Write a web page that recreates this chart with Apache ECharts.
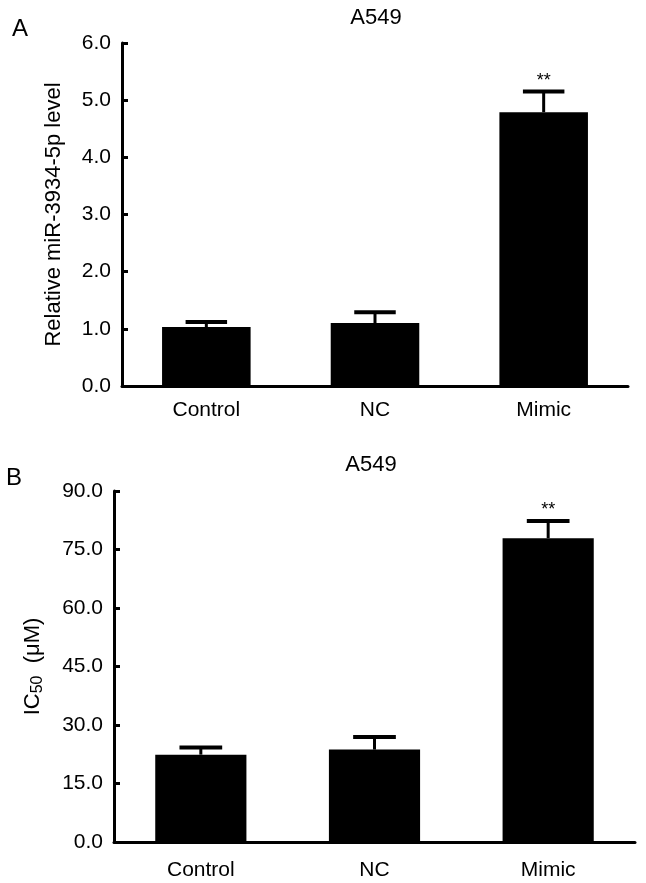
<!DOCTYPE html>
<html>
<head>
<meta charset="utf-8">
<script src="https://cdn.jsdelivr.net/npm/echarts@6/dist/echarts.min.js"></script>
<style>
html,body{margin:0;padding:0;background:#fff;}
#chart{width:646px;height:883px;}
</style>
</head>
<body>
<div id="chart"></div>
<script>
// ---- data ----
const categories = ['Control', 'NC', 'Mimic'];
const panelATitle = 'A549';
const panelBTitle = 'A549';
const meanA = [1.03, 1.10, 4.79];
const upperA = [1.12, 1.29, 5.15];
const sigA = ['', '', '**'];
const meanB = [22.4, 23.7, 77.9];
const upperB = [24.2, 26.9, 82.3];
const sigB = ['', '', '**'];
const yTicksA = { min: 0, max: 6, interval: 1 };
const yTicksB = { min: 0, max: 90, interval: 15 };

const FONT = '"Liberation Sans", Arial, Helvetica, sans-serif';
const FS = 21;

function errRender(sig) {
  return function (params, api) {
    const base = api.coord([api.value(0), api.value(1)]);
    const top = api.coord([api.value(0), api.value(2)]);
    const band = api.size([1, 0])[0];
    const half = band * 0.123;
    const children = [
      { type: 'line', shape: { x1: base[0], y1: base[1], x2: top[0], y2: top[1] },
        style: { stroke: '#000', lineWidth: 3 } },
      { type: 'line', shape: { x1: top[0] - half, y1: top[1], x2: top[0] + half, y2: top[1] },
        style: { stroke: '#000', lineWidth: 4 } }
    ];
    const s = sig[params.dataIndex];
    if (s) {
      children.push({ type: 'text', style: { text: s, x: top[0], y: top[1] - 2, align: 'center',
        verticalAlign: 'bottom', fontSize: 18, fontFamily: FONT, fill: '#000' } });
    }
    return { type: 'group', children: children };
  };
}

function yAxisCommon(t) {
  return {
    type: 'value', min: t.min, max: t.max, interval: t.interval,
    axisLine: { show: true, lineStyle: { color: '#000', width: 3 } },
    axisTick: { show: true, inside: true, length: 6, lineStyle: { color: '#000', width: 3 } },
    axisLabel: { color: '#000', fontSize: FS, fontFamily: FONT, margin: 11,
      formatter: v => v.toFixed(1) },
    splitLine: { show: false },
    nameLocation: 'middle',
    nameTextStyle: { color: '#000', fontSize: 22, fontFamily: FONT }
  };
}
function xAxisCommon(gi, margin) {
  return {
    type: 'category', data: categories, gridIndex: gi,
    axisLine: { show: true, lineStyle: { color: '#000', width: 3 } },
    axisTick: { show: false },
    axisLabel: { color: '#000', fontSize: FS, fontFamily: FONT, margin: margin }
  };
}

const yA = Object.assign(yAxisCommon(yTicksA), { gridIndex: 0, name: 'Relative miR-3934-5p level', nameGap: 57 });
const yB = Object.assign(yAxisCommon(yTicksB), { gridIndex: 1, name: '{a|IC}{b|50}{a|  (μM)}', nameGap: 68,
  nameTextStyle: { color: '#000', fontSize: 22, fontFamily: FONT,
    rich: {
      a: { fontSize: 22, fontFamily: FONT, color: '#000', verticalAlign: 'top', lineHeight: 24 },
      b: { fontSize: 16, fontFamily: FONT, color: '#000', verticalAlign: 'top', lineHeight: 24, padding: [8, 0, 0, 0] }
    } } });

const chart = echarts.init(document.getElementById('chart'));
chart.setOption({
  animation: false,
  backgroundColor: '#fff',
  title: [
    { text: panelATitle, left: 371, top: 2, textAlign: 'center',
      textStyle: { fontSize: 22, fontWeight: 'normal', fontFamily: FONT, color: '#000' } },
    { text: panelBTitle, left: 366, top: 449, textAlign: 'center',
      textStyle: { fontSize: 22, fontWeight: 'normal', fontFamily: FONT, color: '#000' } }
  ],
  graphic: [
    { type: 'text', left: 12, top: 17, style: { text: 'A', fontSize: 24, fontFamily: FONT, fill: '#000' } },
    { type: 'text', left: 6, top: 466, style: { text: 'B', fontSize: 24, fontFamily: FONT, fill: '#000' } }
  ],
  grid: [
    { left: 122, right: 18, top: 43, bottom: 497 },
    { left: 114, right: 11, top: 491, bottom: 41 }
  ],
  xAxis: [xAxisCommon(0, 14), xAxisCommon(1, 18)],
  yAxis: [yA, yB],
  series: [
    { type: 'bar', xAxisIndex: 0, yAxisIndex: 0, data: meanA, barWidth: '52.5%',
      itemStyle: { color: '#000' }, z: 2 },
    { type: 'custom', xAxisIndex: 0, yAxisIndex: 0, renderItem: errRender(sigA),
      data: categories.map((c, i) => [i, meanA[i], upperA[i]]), z: 3 },
    { type: 'bar', xAxisIndex: 1, yAxisIndex: 1, data: meanB, barWidth: '52.5%',
      itemStyle: { color: '#000' }, z: 2 },
    { type: 'custom', xAxisIndex: 1, yAxisIndex: 1, renderItem: errRender(sigB),
      data: categories.map((c, i) => [i, meanB[i], upperB[i]]), z: 3 }
  ]
});
</script>
</body>
</html>
